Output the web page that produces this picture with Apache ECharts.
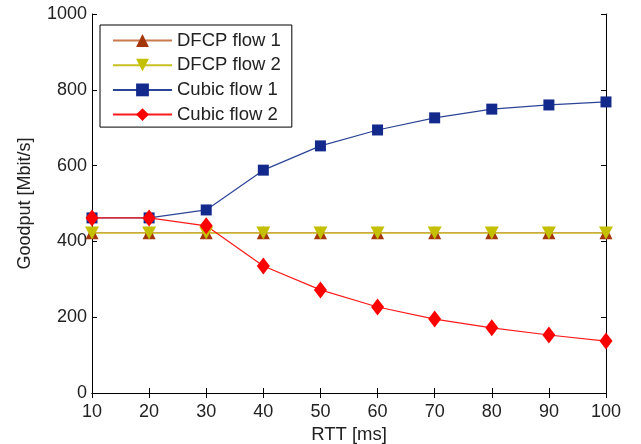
<!DOCTYPE html>
<html><head><meta charset="utf-8">
<script src="https://cdn.jsdelivr.net/npm/echarts@6/dist/echarts.min.js"></script>
<style>html,body{margin:0;padding:0;background:#fff}#c{width:641px;height:444px}</style>
</head><body><div id="c"></div>
<script>
const rtt = [10, 20, 30, 40, 50, 60, 70, 80, 90, 100];
const dfcp1 = [423, 423, 423, 423, 423, 423, 423, 423, 423, 423];
const dfcp2 = [422, 422, 422, 422, 422, 422, 422, 422, 422, 422];
const cubic1 = [462, 462, 483, 588, 652, 694, 726, 749, 760, 768];
const cubic2 = [462, 462, 441, 335, 272, 227, 195, 172, 153, 137];
const names = ['DFCP flow 1', 'DFCP flow 2', 'Cubic flow 1', 'Cubic flow 2'];

const font = 'Liberation Sans, Arial, Helvetica, sans-serif';
const pair = a => rtt.map((x, i) => [x, a[i]]);
const chart = echarts.init(document.getElementById('c'));
const axCommon = {
  axisLine: {show: true, lineStyle: {color: '#000', width: 1}},
  axisTick: {show: true, inside: true, length: 5, lineStyle: {color: '#000'}},
  splitLine: {show: false},
};
chart.setOption({
  animation: false,
  backgroundColor: '#fff',
  grid: {left: 92, right: 35, top: 14, bottom: 51, outerBoundsMode: 'none', containLabel: false},
  legend: {
    left: 100, top: 25, orient: 'vertical',
    borderColor: '#000', borderWidth: 1, borderRadius: 0,
    padding: [6, 11, 3, 12],
    itemWidth: 59, itemHeight: 16, itemGap: 5.7,
    textStyle: {fontFamily: font, fontSize: 18.5, lineHeight: 18, color: '#222'},
    data: names
  },
  xAxis: [
    Object.assign({type: 'value', min: 10, max: 100, interval: 10, position: 'bottom',
      name: 'RTT [ms]', nameLocation: 'middle', nameGap: 31,
      nameTextStyle: {fontFamily: font, fontSize: 18.5, color: '#222'},
      axisLabel: {fontFamily: font, fontSize: 18, color: '#222', margin: 10}}, axCommon),
    Object.assign({type: 'value', min: 10, max: 100, interval: 10, position: 'top',
      axisLabel: {show: false}}, axCommon)
  ],
  yAxis: [
    Object.assign({type: 'value', min: 0, max: 1000, interval: 200, position: 'left',
      name: 'Goodput [Mbit/s]', nameLocation: 'middle', nameGap: 58,
      nameTextStyle: {fontFamily: font, fontSize: 18, color: '#222'},
      axisLabel: {fontFamily: font, fontSize: 18, color: '#222', margin: 5,
        formatter: v => String(v)}}, axCommon),
    Object.assign({type: 'value', min: 0, max: 1000, interval: 200, position: 'right',
      axisLabel: {show: false}}, axCommon)
  ],
  series: [
    {name: names[0], type: 'line', data: pair(dfcp1), symbol: 'triangle', symbolSize: 13,
     lineStyle: {color: '#c97b4f', width: 1}, itemStyle: {color: '#a3360b'}},
    {name: names[1], type: 'line', data: pair(dfcp2), symbol: 'path://M0,0 L10,0 L5,9 Z', symbolSize: [14, 13],
     lineStyle: {color: '#c8c020', width: 1.2}, itemStyle: {color: '#c4c000'}},
    {name: names[2], type: 'line', data: pair(cubic1), symbol: 'rect', symbolSize: 11,
     lineStyle: {color: '#2c4496', width: 1.2}, itemStyle: {color: '#132a8c'}},
    {name: names[3], type: 'line', data: pair(cubic2), symbol: 'diamond', symbolSize: [13, 17],
     lineStyle: {color: '#ff1a1a', width: 1.2}, itemStyle: {color: '#ff0000'}}
  ]
});
</script></body></html>
